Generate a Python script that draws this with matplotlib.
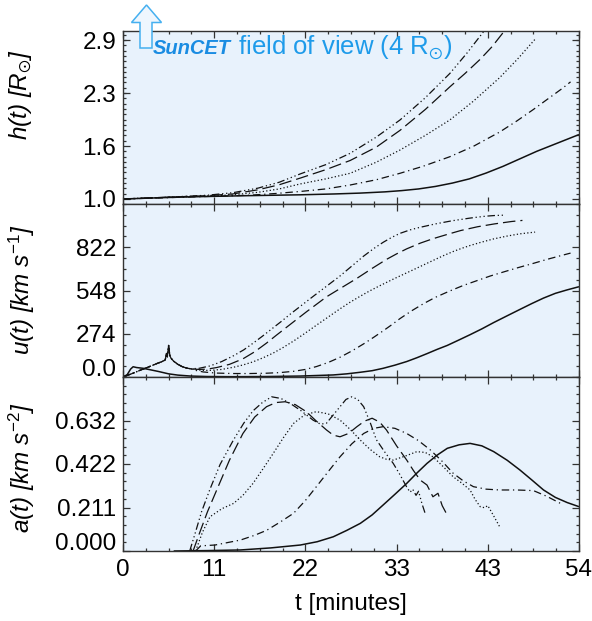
import matplotlib
matplotlib.use('Agg')
import matplotlib.pyplot as plt
import matplotlib.transforms as mtransforms
from matplotlib.patches import Polygon
from matplotlib.ticker import AutoMinorLocator

plt.rcParams['font.family'] = ['Liberation Sans', 'DejaVu Sans']
plt.rcParams['mathtext.fontset'] = 'custom'
plt.rcParams['mathtext.rm'] = 'Liberation Sans'
plt.rcParams['mathtext.it'] = 'Liberation Sans:italic'
plt.rcParams['mathtext.bf'] = 'Liberation Sans:bold'
plt.rcParams['mathtext.fallback'] = 'stixsans'

# ---- axis ticks / labels ----
x_ticks = [0, 10.8, 21.6, 32.4, 43.2, 54]
x_labels = ['0', '11', '22', '33', '43', '54']
h_ticks = [1.0, 1.6333, 2.2667, 2.9]
h_labels = ['1.0', '1.6', '2.3', '2.9']
u_ticks = [0, 274, 548, 822]
u_labels = ['0.0', '274', '548', '822']
a_ticks = [0, 0.211, 0.422, 0.633]
a_labels = ['0.000', '0.211', '0.422', '0.632']

# ---- height h(t) [R_sun] ----
h_solid_t = [0, 3, 6, 10, 15, 21, 25, 28, 31, 33, 35, 37, 39, 41, 43, 45, 47, 49, 51, 52.5, 54]
h_solid = [1.0, 1.01, 1.02, 1.03, 1.04, 1.05, 1.06, 1.07, 1.085, 1.10, 1.12, 1.15, 1.19, 1.24,
           1.31, 1.39, 1.48, 1.57, 1.65, 1.71, 1.77]
h_dd_t = [0, 5, 10, 15, 18, 21, 24, 26.9, 30, 32.8, 35.5, 38.7, 41.5, 44.6, 46.6, 48.6, 50.5, 52, 53]
h_dd = [1.0, 1.015, 1.03, 1.045, 1.065, 1.09, 1.12, 1.167, 1.23, 1.307, 1.39, 1.505, 1.63, 1.80,
        1.93, 2.07, 2.21, 2.32, 2.40]
h_dot_t = [0, 5, 10, 13, 16, 18.5, 21, 24, 26.9, 30, 32.8, 35.8, 38.7, 41.5, 44.6, 46.7, 48.8]
h_dot = [1.0, 1.02, 1.035, 1.05, 1.08, 1.12, 1.18, 1.24, 1.307, 1.44, 1.585, 1.76, 1.944, 2.17,
         2.45, 2.67, 2.91]
h_dash_t = [0, 5, 10, 13, 16, 18.5, 21, 24, 26.9, 30, 32.8, 35.8, 38.7, 40.5, 42.3, 43.7, 45.1, 45.4]
h_dash = [1.0, 1.02, 1.04, 1.06, 1.11, 1.17, 1.25, 1.35, 1.46, 1.62, 1.82, 2.07, 2.34, 2.50,
          2.67, 2.82, 3.0, 3.04]
h_ddd_t = [0, 5, 10, 13, 16, 18.5, 21, 24, 26.9, 30, 32.8, 35.8, 38.7, 40.7, 42.7, 43.2]
h_ddd = [1.0, 1.02, 1.045, 1.075, 1.13, 1.20, 1.30, 1.41, 1.546, 1.74, 1.944, 2.21, 2.50, 2.74,
         3.0, 3.06]

# ---- velocity u(t) [km/s] ----
t_early = [0, 1, 2, 3, 4, 4.6, 5.0, 5.15, 5.25, 5.4, 5.55, 5.7, 6.0, 6.5, 7.0, 7.5]
u_early = [0, 20, 42, 63, 85, 97, 108, 150, 128, 200, 135, 118, 100, 80, 66, 57]

u_solid_t = [0, 0.5, 0.9, 1.2, 1.6, 2.4, 3.3, 4.2, 5.4, 6.5, 8, 10, 13, 17, 21, 24.9, 26.5, 28.1,
             29.5, 30.8, 32.2, 33.6, 34.8, 36.0, 37.2, 38.4, 39.8, 41.1, 42.5, 43.9, 45.5, 47.0,
             48.4, 49.8, 51.2, 52.6, 54.0]
u_solid = [0, 15, 50, 65, 60, 55, 45, 35, 20, 12, 6, 3, 2, 3, 6, 13, 20, 30, 40, 55, 75, 98, 122,
           148, 175, 200, 235, 268, 305, 345, 388, 428, 465, 500, 530, 552, 572]
u_dd_t = t_early + [8.0, 8.6, 9.5, 11.0, 13.0, 15.0, 17.0, 18.6, 20.2, 21.6, 22.9, 24.3, 25.7,
                    27.1, 28.5, 29.7, 30.8, 31.8, 32.8, 34.2, 35.6, 37.0, 38.7, 40.3, 42.0, 43.5,
                    44.6, 46.6, 48.6, 50.2, 51.8, 53.0]
u_dd = u_early + [52, 42, 32, 25, 22, 22, 24, 28, 36, 48, 66, 92, 125, 165, 210, 252, 292, 330,
                  370, 420, 465, 505, 545, 580, 612, 640, 658, 690, 720, 745, 768, 785]
u_dot_t = t_early + [8.0, 8.6, 9.4, 10.3, 11.7, 13.1, 14.2, 15.4, 16.6, 17.8, 19.0, 20.2, 21.5,
                     22.9, 24.3, 25.7, 26.9, 28.1, 29.2, 30.4, 32.0, 33.4, 34.8, 36.7, 38.0, 39.1,
                     40.1, 41.1, 42.3, 43.9, 45.5, 47.0, 48.8]
u_dot = u_early + [52, 46, 42, 42, 48, 62, 76, 96, 122, 152, 188, 228, 275, 328, 380, 432, 474,
                   512, 545, 578, 620, 655, 690, 738, 770, 795, 815, 833, 852, 875, 893, 907, 918]
u_dash_t = t_early + [8.0, 9.0, 10.0, 11.1, 12.6, 14.2, 15.6, 17.0, 18.1, 19.2, 20.4, 21.7, 22.9,
                      24.1, 25.7, 27.7, 29.5, 31.2, 32.4, 33.6, 35.2, 36.7, 38.5, 40.0, 42.0, 44.0,
                      46.0, 47.3]
u_dash = u_early + [52, 48, 50, 60, 80, 115, 160, 215, 262, 308, 358, 412, 460, 508, 560, 625, 688,
                    745, 780, 812, 848, 876, 905, 928, 952, 970, 985, 992]
u_ddd_t = t_early + [8.0, 9.0, 10.3, 11.7, 13.1, 14.3, 15.4, 16.5, 17.6, 18.7, 19.8, 21.1, 22.5,
                     24.1, 25.7, 27.1, 28.5, 29.7, 30.8, 31.8, 32.8, 34.0, 35.0, 36.0, 37.0, 38.0,
                     39.0, 40.0, 41.0, 42.0, 43.0, 44.0, 45.0]
u_ddd = u_early + [52, 55, 70, 98, 135, 172, 214, 258, 304, 350, 398, 452, 510, 575, 640, 703,
                   766, 814, 853, 884, 910, 932, 946, 958, 970, 980, 990, 998, 1006, 1013, 1019,
                   1023, 1025]

# ---- acceleration a(t) [km/s^2] ----
a_solid_t = [6.0, 10, 13.9, 17.5, 21.0, 23.0, 24.9, 26.5, 28.1, 29.5, 30.8, 32.2, 33.6, 34.8, 36.0,
             37.2, 38.4, 39.8, 41.1, 42.5, 43.9, 45.5, 47.0, 48.4, 49.8, 51.2, 52.6, 54.0]
a_solid = [0.0, 0.002, 0.005, 0.015, 0.029, 0.045, 0.069, 0.10, 0.134, 0.175, 0.223, 0.275, 0.328,
           0.378, 0.425, 0.465, 0.498, 0.515, 0.522, 0.51, 0.482, 0.44, 0.393, 0.345, 0.296, 0.26,
           0.235, 0.215]
a_dd_t = [8.6, 9.2, 10.9, 13.9, 15.5, 17.0, 18.6, 20.2, 21.6, 22.9, 24.3, 25.7, 27.1, 28.5, 29.7,
          30.8, 32.2, 33.6, 35.0, 36.4, 37.8, 39.1, 40.3, 41.5, 43.0, 44.6, 46.6, 48.6, 50.2, 51.8]
a_dd = [0.0, 0.025, 0.029, 0.053, 0.075, 0.10, 0.14, 0.183, 0.245, 0.312, 0.385, 0.457, 0.52, 0.57,
        0.595, 0.603, 0.595, 0.57, 0.535, 0.49, 0.435, 0.377, 0.34, 0.312, 0.30, 0.296, 0.296,
        0.293, 0.265, 0.231]
a_dot_t = [8.6, 9.4, 10.3, 11.7, 13.1, 14.2, 15.4, 16.6, 17.8, 19.0, 20.2, 21.5, 22.9, 24.3, 25.7,
           26.9, 28.1, 29.2, 30.4, 31.2, 32.0, 33.4, 34.8, 35.8, 36.7, 37.9, 39.1, 40.1, 41.1, 41.7,
           42.3, 42.8, 43.2, 43.9, 44.6]
a_dot = [0.0, 0.09, 0.166, 0.205, 0.231, 0.27, 0.328, 0.40, 0.474, 0.55, 0.619, 0.66, 0.676, 0.665,
         0.635, 0.59, 0.538, 0.495, 0.457, 0.445, 0.441, 0.46, 0.482, 0.478, 0.457, 0.41, 0.36,
         0.33, 0.296, 0.25, 0.215, 0.21, 0.22, 0.17, 0.118]
a_dash_t = [8.3, 9.0, 10.0, 11.1, 12.6, 14.2, 15.6, 17.0, 18.1, 19.2, 20.4, 21.7, 22.9, 24.1, 24.9,
            25.7, 26.7, 27.7, 28.6, 29.5, 30.4, 31.2, 32.4, 33.6, 34.4, 35.2, 36.0, 36.7, 37.3,
            37.8, 38.5]
a_dash = [0.0, 0.08, 0.19, 0.296, 0.44, 0.57, 0.65, 0.70, 0.72, 0.724, 0.71, 0.676, 0.63, 0.587,
          0.562, 0.554, 0.57, 0.603, 0.63, 0.644, 0.625, 0.587, 0.51, 0.441, 0.39, 0.344, 0.32,
          0.263, 0.28, 0.22, 0.166]
a_ddd_t = [7.9, 8.5, 9.3, 10.3, 11.5, 13.1, 14.3, 15.4, 16.5, 17.6, 18.7, 19.8, 21.1, 22.5, 23.4,
           24.1, 24.9, 25.7, 26.4, 27.1, 27.8, 28.5, 29.3, 30.0, 31.0, 32.0, 32.8, 33.6, 34.0, 34.3,
           34.7, 35.0, 35.4, 35.8]
a_ddd = [0.0, 0.08, 0.19, 0.30, 0.42, 0.54, 0.62, 0.68, 0.72, 0.748, 0.74, 0.716, 0.68, 0.635,
         0.615, 0.62, 0.66, 0.70, 0.735, 0.748, 0.735, 0.70, 0.62, 0.54, 0.48, 0.425, 0.37, 0.31,
         0.285, 0.30, 0.27, 0.29, 0.23, 0.18]

styles = {
    'solid': dict(ls='-', lw=1.1),
    'dd': dict(ls=(0, (6, 3, 1, 3)), lw=0.9),
    'dot': dict(ls=(0, (1, 1.8)), lw=0.9),
    'dash': dict(ls=(0, (10, 4)), lw=0.9),
    'ddd': dict(ls=(0, (6, 2.2, 1, 2.2, 1, 2.2, 1, 2.2)), lw=0.9),
}
line_color = '#111111'
bg = '#E8F2FC'
spine_color = '#333333'
blue = '#1E9BEA'
fs = 17.5

W, H = 592, 621
fig = plt.figure(figsize=(W / 100, H / 100), dpi=100)


def fx(px):
    return px / W


def fy(py):
    return 1 - py / H


left, right = 123, 579
bounds = [(31, 204), (204, 377), (377, 551)]
axes = []
for top, bot in bounds:
    ax = fig.add_axes([fx(left), fy(bot), (right - left) / W, (bot - top) / H])
    ax.set_facecolor(bg)
    for s in ax.spines.values():
        s.set_color(spine_color)
        s.set_linewidth(1.0)
    axes.append(ax)
ax1, ax2, ax3 = axes

series = [
    (ax1, [(h_solid_t, h_solid, 'solid'), (h_dd_t, h_dd, 'dd'), (h_dot_t, h_dot, 'dot'),
           (h_dash_t, h_dash, 'dash'), (h_ddd_t, h_ddd, 'ddd')]),
    (ax2, [(u_solid_t, u_solid, 'solid'), (u_dd_t, u_dd, 'dd'), (u_dot_t, u_dot, 'dot'),
           (u_dash_t, u_dash, 'dash'), (u_ddd_t, u_ddd, 'ddd')]),
    (ax3, [(a_solid_t, a_solid, 'solid'), (a_dd_t, a_dd, 'dd'), (a_dot_t, a_dot, 'dot'),
           (a_dash_t, a_dash, 'dash'), (a_ddd_t, a_ddd, 'ddd')]),
]
for ax, lines in series:
    for t, v, key in lines:
        ax.plot(t, v, color=line_color, solid_capstyle='butt', **styles[key])

ax1.set_ylim(0.94, 3.008)
ax2.set_ylim(0, 1096)
ax3.set_ylim(0, 0.844)

for ax, ticks, labels, nminor in [(ax1, h_ticks, h_labels, 10), (ax2, u_ticks, u_labels, 4),
                                  (ax3, a_ticks, a_labels, 5)]:
    ax.set_xlim(0, 54)
    ax.set_xticks(x_ticks)
    ax.xaxis.set_minor_locator(AutoMinorLocator(4))
    ax.set_yticks(ticks)
    ax.set_yticklabels(labels, fontsize=fs)
    ax.yaxis.set_minor_locator(AutoMinorLocator(nminor))
    ax.tick_params(which='both', direction='in', top=True, right=True, color=spine_color,
                   width=0.9)
    ax.tick_params(which='major', length=5, pad=5)
    ax.tick_params(which='minor', length=2.5)
    if ax is ax3:
        ax.set_xticklabels(x_labels, fontsize=fs)
        ax.tick_params(axis='x', pad=6)
    else:
        ax.set_xticklabels([])

# bottom labels of the lower panels sit a little above their tick
shift = mtransforms.ScaledTranslation(0, 0.09, fig.dpi_scale_trans)
for ax, txt in [(ax2, '0.0'), (ax3, '0.000')]:
    for lab in ax.get_yticklabels():
        if lab.get_text() == txt:
            lab.set_transform(lab.get_transform() + shift)

# axis titles
fig.text(fx(21), fy(95), r'h(t) [R$_{\odot}$]', rotation=90, fontsize=fs, fontstyle='italic',
         ha='center', va='center')
fig.text(fx(22), fy(290), r'u(t) [km s$^{-1}$]', rotation=90, fontsize=fs, fontstyle='italic',
         ha='center', va='center')
fig.text(fx(22), fy(468), r'a(t) [km s$^{-2}$]', rotation=90, fontsize=fs, fontstyle='italic',
         ha='center', va='center')
fig.text(fx(351), fy(604), 't [minutes]', fontsize=fs, ha='center', va='center')

# SunCET field-of-view marker
arrow_px = [(146.5, 5), (161.5, 22.5), (152, 22.5), (152, 48), (140, 48), (140, 22.5),
            (131.5, 22.5)]
arrow = Polygon([(fx(x), fy(y)) for x, y in arrow_px], closed=True, transform=fig.transFigure,
                facecolor='#EEF6FE', edgecolor='#45B0F0', lw=1.1, zorder=10)
fig.add_artist(arrow)
logo = fig.text(fx(153), fy(54.5), 'SunCET', fontsize=14.5, fontweight='bold', fontstyle='italic',
                color='#1A8CE2', ha='left', va='baseline', zorder=11)
renderer = fig.canvas.get_renderer()
x_end = logo.get_window_extent(renderer).x1
fig.text(x_end / W, fy(54.5), r' field of view (4 R$_{\odot}$)', fontsize=18.5, color=blue,
         ha='left', va='baseline', zorder=11)

fig.savefig('out.png', dpi=100)
